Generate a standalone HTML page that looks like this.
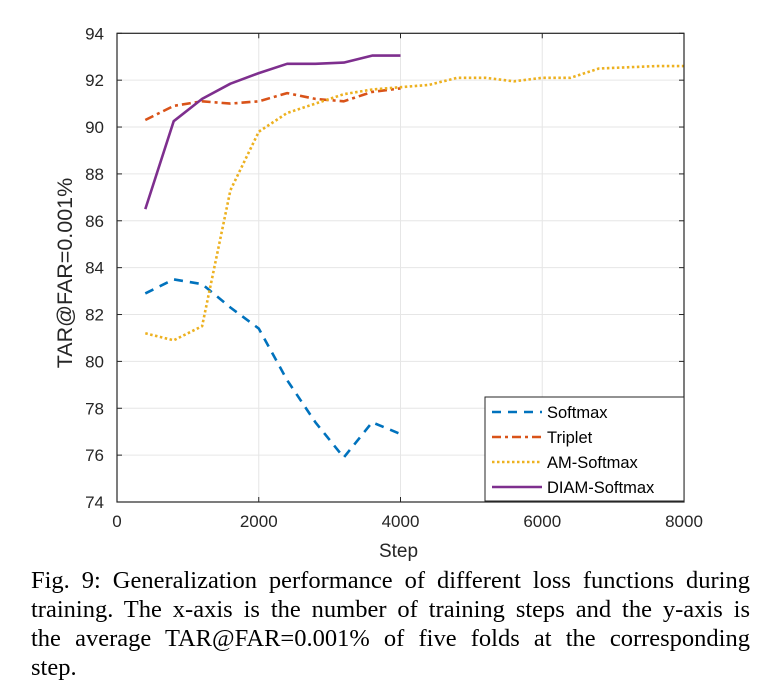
<!DOCTYPE html>
<html><head><meta charset="utf-8"><style>
body{margin:0;background:#fff;width:759px;height:694px;overflow:hidden;position:relative}
svg{position:absolute;left:0;top:0}
.cap{position:absolute;left:31px;top:566px;width:719px;font-family:"Liberation Serif",serif;font-size:24.5px;line-height:29px;color:#000}
.cap div{text-align:justify;text-align-last:justify;white-space:nowrap}
.cap div.last{text-align-last:left}
</style></head><body>
<svg id="chart" width="759" height="565" font-family="Liberation Sans, sans-serif"></svg>
<div class="cap">
<div>Fig. 9: Generalization performance of different loss functions during</div>
<div>training. The x-axis is the number of training steps and the y-axis is</div>
<div>the average TAR@FAR=0.001% of five folds at the corresponding</div>
<div class="last">step.</div>
</div>
<script>
const steps = [400,800,1200,1600,2000,2400,2800,3200,3600,4000,4400,4800,5200,5600,6000,6400,6800,7200,7600,8000];
const softmax = [82.9,83.5,83.3,82.3,81.4,79.2,77.4,75.9,77.4,76.9];
const triplet = [90.3,90.9,91.1,91.0,91.1,91.45,91.2,91.1,91.5,91.65];
const amSoftmax = [81.2,80.9,81.5,87.3,89.8,90.6,91.0,91.4,91.6,91.7,91.8,92.1,92.1,91.95,92.1,92.1,92.5,92.55,92.6,92.6];
const diamSoftmax = [86.5,90.25,91.2,91.85,92.3,92.7,92.7,92.75,93.05,93.05];
const xTicks = [0,2000,4000,6000,8000];
const yTicks = [74,76,78,80,82,84,86,88,90,92,94];
const seriesNames = ["Softmax","Triplet","AM-Softmax","DIAM-Softmax"];

const L=117,R=684,T=33.3,B=502;
const xs=v=>L+(v-0)/8000*(R-L);
const ys=v=>B-(v-74)/20*(B-T);
const svg=document.getElementById('chart');
const NS='http://www.w3.org/2000/svg';
function mk(tag,attrs,parent){const e=document.createElementNS(NS,tag);for(const k in attrs)e.setAttribute(k,attrs[k]);(parent||svg).appendChild(e);return e;}

yTicks.forEach(v=>{const g=mk('line',{x1:L,x2:R,y1:ys(v),y2:ys(v),stroke:'#e6e6e6','stroke-width':1});

});
xTicks.forEach(v=>{const g=mk('line',{x1:xs(v),x2:xs(v),y1:T,y2:B,stroke:'#e6e6e6','stroke-width':1});

});

const styles=[
 {c:'#0072BD',d:'9,7',w:2.6},
 {c:'#D95319',d:'9,4,3,4',w:2.6},
 {c:'#EDB120',d:'2.5,2.5',w:2.6},
 {c:'#7E2F8E',d:'',w:2.6}];
const data=[softmax,triplet,amSoftmax,diamSoftmax];
const names=['softmax-line','triplet-line','am-softmax-line','diam-softmax-line'];
data.forEach((arr,i)=>{
 const pts=arr.map((v,j)=>xs(steps[j]).toFixed(1)+','+ys(v).toFixed(1)).join(' ');
 const p=mk('polyline',{points:pts,fill:'none',stroke:styles[i].c,'stroke-width':styles[i].w,'stroke-dasharray':styles[i].d,'stroke-linejoin':'round'});
 
 
});

const box=mk('rect',{x:L,y:T,width:R-L,height:B-T,fill:'none',stroke:'#262626','stroke-width':1.2});


yTicks.forEach(v=>{
 mk('line',{x1:L,x2:L+5,y1:ys(v),y2:ys(v),stroke:'#262626'});
 mk('line',{x1:R-5,x2:R,y1:ys(v),y2:ys(v),stroke:'#262626'});
 const t=mk('text',{x:L-13,y:ys(v)+6,'text-anchor':'end','font-size':17,fill:'#262626'});t.textContent=v;
 
 
});
xTicks.forEach(v=>{
 mk('line',{x1:xs(v),x2:xs(v),y1:B,y2:B-5,stroke:'#262626'});
 mk('line',{x1:xs(v),x2:xs(v),y1:T,y2:T+5,stroke:'#262626'});
 const t=mk('text',{x:xs(v),y:B+25,'text-anchor':'middle','font-size':17,fill:'#262626'});t.textContent=v;
 
 
});
const xl=mk('text',{x:(L+R)/2-2,y:557,'text-anchor':'middle','font-size':19,fill:'#262626'});xl.textContent='Step';


const yl=mk('text',{x:0,y:0,'text-anchor':'middle','font-size':21.5,fill:'#262626',transform:'translate(72,273) rotate(-90)'});yl.textContent='TAR@FAR=0.001%';



const lg=mk('g',{});


mk('rect',{x:485,y:397,width:199,height:104,fill:'#fff',stroke:'#262626','stroke-width':1},lg);
const rowsY=[412,437,462,487];
seriesNames.forEach((n,i)=>{
 const e=mk('g',{},lg);
 
 
 mk('line',{x1:492,x2:542,y1:rowsY[i],y2:rowsY[i],stroke:styles[i].c,'stroke-width':styles[i].w,'stroke-dasharray':styles[i].d},e);
 const t=mk('text',{x:547,y:rowsY[i]+6,'font-size':16.5,fill:'#000'},e);t.textContent=n;
});
</script>
</body></html>
